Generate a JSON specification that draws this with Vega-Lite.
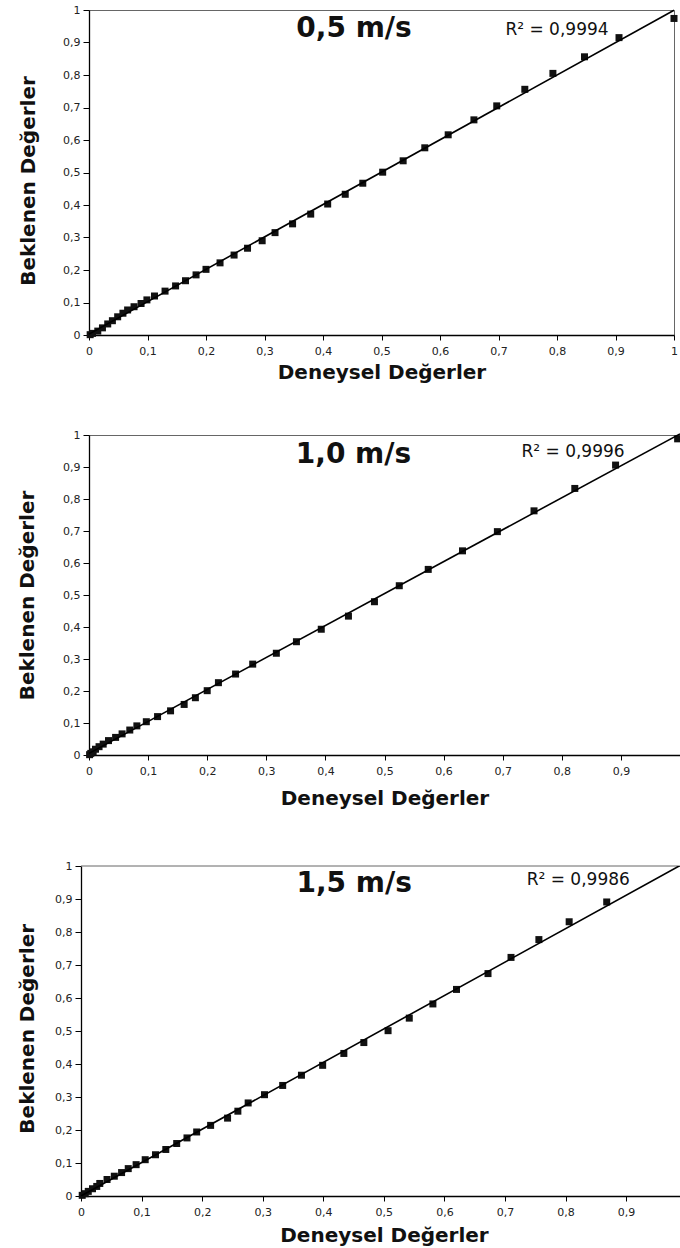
{
  "$schema": "https://vega.github.io/schema/vega-lite/v6.json",
  "background": "white",
  "padding": {"left": 16, "top": 3, "right": 0, "bottom": 0},
  "spacing": 50,
  "config": {
    "view": {"stroke": "#666", "strokeWidth": 1},
    "axis": {"labelFont": "DejaVu Sans", "labelFontSize": 11, "labelColor": "#222", "labelOverlap": false, "titleFont": "DejaVu Sans", "titleFontWeight": "bold", "titleFontSize": 20, "titleColor": "#111", "domainColor": "#000", "domainWidth": 1.3, "tickColor": "#000", "grid": false},
    "axisX": {"tickSize": 5, "labelPadding": 5.5, "labelFlush": false, "titleBaseline": "top", "titleAlign": "center"},
    "axisY": {"tickSize": 6, "labelPadding": 3, "labelFlush": false, "titleAngle": 270, "titleBaseline": "bottom", "titleAlign": "center"},
    "locale": {"number": {"decimal": ",", "thousands": ".", "grouping": [3], "currency": ["", ""]}}
  },
  "vconcat": [
    {
      "spacing": 0,
      "hconcat": [
        {"width": 1, "height": 1, "view": {"stroke": null}, "data": {"values": []}, "mark": "point"},
        {
          "spacing": 44,
          "vconcat": [
            {
              "width": 585, "height": 325,
              "data": {"values": [
                {"x":0.002,"y":0.001},{"x":0.006,"y":0.005},{"x":0.015,"y":0.012},{"x":0.023,"y":0.022},{"x":0.032,"y":0.034},{"x":0.040,"y":0.044},{"x":0.049,"y":0.056},{"x":0.058,"y":0.067},{"x":0.066,"y":0.077},{"x":0.077,"y":0.087},{"x":0.089,"y":0.097},{"x":0.099,"y":0.108},{"x":0.112,"y":0.120},{"x":0.130,"y":0.135},{"x":0.148,"y":0.151},{"x":0.165,"y":0.167},{"x":0.183,"y":0.185},{"x":0.200,"y":0.202},{"x":0.224,"y":0.222},{"x":0.248,"y":0.246},{"x":0.271,"y":0.267},{"x":0.296,"y":0.290},{"x":0.318,"y":0.315},{"x":0.348,"y":0.342},{"x":0.379,"y":0.372},{"x":0.408,"y":0.403},{"x":0.438,"y":0.433},{"x":0.468,"y":0.467},{"x":0.502,"y":0.501},{"x":0.537,"y":0.536},{"x":0.574,"y":0.576},{"x":0.614,"y":0.616},{"x":0.658,"y":0.662},{"x":0.697,"y":0.705},{"x":0.745,"y":0.756},{"x":0.793,"y":0.805},{"x":0.847,"y":0.856},{"x":0.906,"y":0.915},{"x":1.0,"y":0.974}
              ]},
              "layer": [
                {
                  "mark": {"type": "point", "shape": "square", "filled": true, "size": 49, "color": "#111", "opacity": 1},
                  "encoding": {
                    "x": {"field": "x", "type": "quantitative", "scale": {"domain": [0, 1], "nice": false},
                      "axis": {"title": "Deneysel Değerler", "values": [0,0.1,0.2,0.3,0.4,0.5,0.6,0.7,0.8,0.9,1], "format": ".1~f", "titleX": 292.5, "titleY": 27.8}},
                    "y": {"field": "y", "type": "quantitative", "scale": {"domain": [0, 1], "nice": false},
                      "axis": {"title": "Beklenen Değerler", "tickCount": 10, "format": ".1~f", "labelOverlap": false, "titleX": -51, "titleY": 170.5}}
                  }
                },
                {
                  "transform": [{"regression": "y", "on": "x", "extent": [0, 1]}],
                  "mark": {"type": "line", "color": "#000", "strokeWidth": 1.6},
                  "encoding": {"x": {"field": "x", "type": "quantitative"}, "y": {"field": "y", "type": "quantitative"}}
                },
                {
                  "data": {"values": [{}]},
                  "mark": {"type": "text", "font": "DejaVu Sans", "fontWeight": "bold", "fontSize": 28, "align": "center", "baseline": "alphabetic", "color": "#111"},
                  "encoding": {"x": {"datum": 0.453}, "y": {"datum": 0.917}, "text": {"value": "0,5 m/s"}}
                },
                {
                  "data": {"values": [{}]},
                  "mark": {"type": "text", "font": "DejaVu Sans", "fontSize": 17, "align": "center", "baseline": "alphabetic", "color": "#111"},
                  "encoding": {"x": {"datum": 0.8}, "y": {"datum": 0.923}, "text": {"value": "R² = 0,9994"}}
                }
              ]
            },
            {
              "width": 591, "height": 320,
              "data": {"values": [
                {"x":0.001,"y":0.001},{"x":0.003,"y":0.005},{"x":0.007,"y":0.010},{"x":0.011,"y":0.018},{"x":0.017,"y":0.026},{"x":0.024,"y":0.034},{"x":0.033,"y":0.045},{"x":0.045,"y":0.055},{"x":0.056,"y":0.066},{"x":0.069,"y":0.078},{"x":0.081,"y":0.091},{"x":0.097,"y":0.104},{"x":0.116,"y":0.120},{"x":0.138,"y":0.138},{"x":0.161,"y":0.158},{"x":0.180,"y":0.179},{"x":0.200,"y":0.201},{"x":0.219,"y":0.226},{"x":0.248,"y":0.253},{"x":0.277,"y":0.284},{"x":0.317,"y":0.318},{"x":0.351,"y":0.354},{"x":0.393,"y":0.393},{"x":0.439,"y":0.434},{"x":0.483,"y":0.479},{"x":0.525,"y":0.529},{"x":0.574,"y":0.580},{"x":0.632,"y":0.638},{"x":0.691,"y":0.698},{"x":0.753,"y":0.763},{"x":0.822,"y":0.833},{"x":0.891,"y":0.906},{"x":0.996,"y":0.988}
              ]},
              "layer": [
                {
                  "mark": {"type": "point", "shape": "square", "filled": true, "size": 49, "color": "#111", "opacity": 1},
                  "encoding": {
                    "x": {"field": "x", "type": "quantitative", "scale": {"domain": [0, 1], "nice": false},
                      "axis": {"title": "Deneysel Değerler", "values": [0,0.1,0.2,0.3,0.4,0.5,0.6,0.7,0.8,0.9], "format": ".1~f", "titleX": 295.5, "titleY": 33.8}},
                    "y": {"field": "y", "type": "quantitative", "scale": {"domain": [0, 1], "nice": false},
                      "axis": {"title": "Beklenen Değerler", "tickCount": 10, "format": ".1~f", "labelOverlap": false, "titleX": -51.5, "titleY": 160}}
                  }
                },
                {
                  "transform": [{"regression": "y", "on": "x", "extent": [0, 1]}],
                  "mark": {"type": "line", "color": "#000", "strokeWidth": 1.6},
                  "encoding": {"x": {"field": "x", "type": "quantitative"}, "y": {"field": "y", "type": "quantitative"}}
                },
                {
                  "data": {"values": [{}]},
                  "mark": {"type": "text", "font": "DejaVu Sans", "fontWeight": "bold", "fontSize": 28, "align": "center", "baseline": "alphabetic", "color": "#111"},
                  "encoding": {"x": {"datum": 0.4475}, "y": {"datum": 0.9116}, "text": {"value": "1,0 m/s"}}
                },
                {
                  "data": {"values": [{}]},
                  "mark": {"type": "text", "font": "DejaVu Sans", "fontSize": 17, "align": "center", "baseline": "alphabetic", "color": "#111"},
                  "encoding": {"x": {"datum": 0.819}, "y": {"datum": 0.932}, "text": {"value": "R² = 0,9996"}}
                }
              ]
            }
          ]
        }
      ]
    },
    {
      "spacing": 0,
      "hconcat": [
        {"width": 1, "height": 1, "view": {"stroke": null}, "data": {"values": []}, "mark": "point"},
        {
          "width": 599, "height": 330,
          "view": {"stroke": null},
          "data": {"values": [
            {"x":0.002,"y":0.002},{"x":0.007,"y":0.007},{"x":0.012,"y":0.014},{"x":0.019,"y":0.022},{"x":0.026,"y":0.029},{"x":0.031,"y":0.038},{"x":0.043,"y":0.050},{"x":0.055,"y":0.060},{"x":0.067,"y":0.071},{"x":0.078,"y":0.083},{"x":0.091,"y":0.095},{"x":0.106,"y":0.110},{"x":0.123,"y":0.125},{"x":0.140,"y":0.141},{"x":0.158,"y":0.159},{"x":0.175,"y":0.176},{"x":0.191,"y":0.194},{"x":0.214,"y":0.214},{"x":0.242,"y":0.236},{"x":0.259,"y":0.257},{"x":0.276,"y":0.282},{"x":0.303,"y":0.307},{"x":0.333,"y":0.335},{"x":0.364,"y":0.366},{"x":0.399,"y":0.396},{"x":0.434,"y":0.432},{"x":0.467,"y":0.465},{"x":0.507,"y":0.501},{"x":0.542,"y":0.539},{"x":0.581,"y":0.582},{"x":0.620,"y":0.626},{"x":0.672,"y":0.674},{"x":0.710,"y":0.723},{"x":0.756,"y":0.777},{"x":0.806,"y":0.831},{"x":0.868,"y":0.891}
          ]},
          "layer": [
            {
              "mark": {"type": "point", "shape": "square", "filled": true, "size": 49, "color": "#111", "opacity": 1},
              "encoding": {
                "x": {"field": "x", "type": "quantitative", "scale": {"domain": [0, 0.989], "nice": false},
                  "axis": {"title": "Deneysel Değerler", "values": [0,0.1,0.2,0.3,0.4,0.5,0.6,0.7,0.8,0.9], "format": ".1~f", "titleX": 303, "titleY": 29.5}},
                "y": {"field": "y", "type": "quantitative", "scale": {"domain": [0, 1], "nice": false},
                  "axis": {"title": "Beklenen Değerler", "tickCount": 10, "format": ".1~f", "labelOverlap": false, "titleX": -44, "titleY": 162.3}}
              }
            },
            {
              "data": {"values": [{}]},
              "mark": {"type": "rule", "color": "#666", "strokeWidth": 1},
              "encoding": {"y": {"datum": 1}}
            },
            {
              "transform": [{"regression": "y", "on": "x", "extent": [0, 0.989]}],
              "mark": {"type": "line", "color": "#000", "strokeWidth": 1.6, "clip": true},
              "encoding": {"x": {"field": "x", "type": "quantitative"}, "y": {"field": "y", "type": "quantitative"}}
            },
            {
              "data": {"values": [{}]},
              "mark": {"type": "text", "font": "DejaVu Sans", "fontWeight": "bold", "fontSize": 28, "align": "center", "baseline": "alphabetic", "color": "#111"},
              "encoding": {"x": {"datum": 0.451}, "y": {"datum": 0.921}, "text": {"value": "1,5 m/s"}}
            },
            {
              "data": {"values": [{}]},
              "mark": {"type": "text", "font": "DejaVu Sans", "fontSize": 17, "align": "center", "baseline": "alphabetic", "color": "#111"},
              "encoding": {"x": {"datum": 0.821}, "y": {"datum": 0.9415}, "text": {"value": "R² = 0,9986"}}
            }
          ]
        }
      ]
    }
  ]
}
